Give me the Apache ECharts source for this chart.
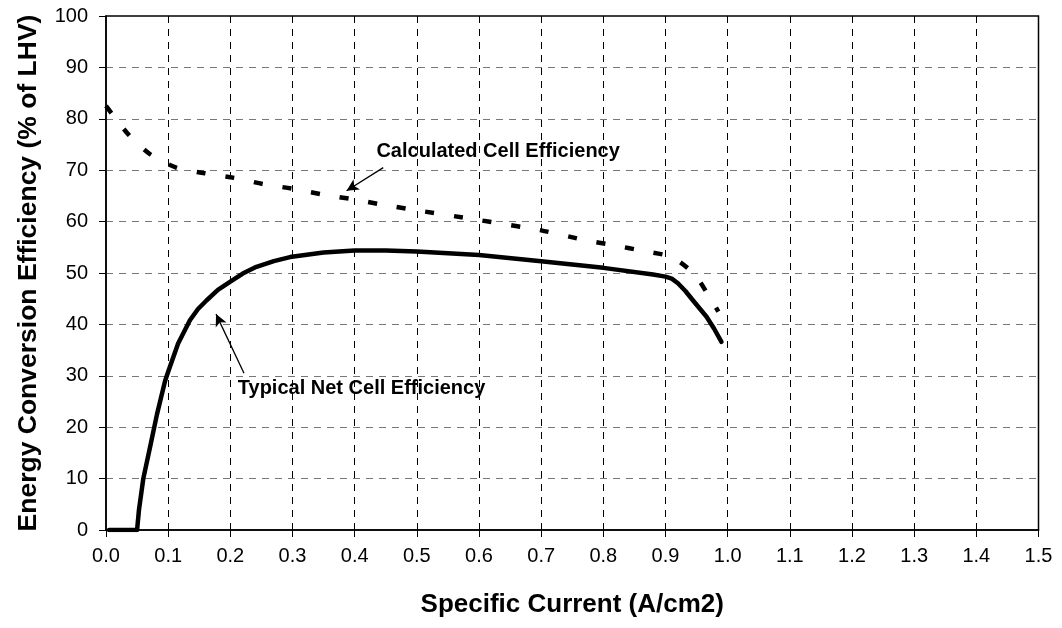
<!DOCTYPE html>
<html>
<head>
<meta charset="utf-8">
<script src="https://cdn.jsdelivr.net/npm/echarts@6/dist/echarts.min.js"></script>
<style>html,body{margin:0;padding:0;background:#fff}#c{width:1062px;height:628px}</style>
</head>
<body>
<div id="c"></div>
<script>
const xTicks = [0,0.1,0.2,0.3,0.4,0.5,0.6,0.7,0.8,0.9,1.0,1.1,1.2,1.3,1.4,1.5];
const yTicks = [0,10,20,30,40,50,60,70,80,90,100];
const typicalNet = [[0.005,0],[0.05,0],[0.053,3.9],[0.06,10],[0.071,16.2],[0.082,22.5],[0.095,29],[0.1,30.8],[0.116,36.3],[0.135,40.8],[0.148,43],[0.162,44.7],[0.18,46.7],[0.2,48.3],[0.22,49.9],[0.242,51.2],[0.27,52.3],[0.296,53.1],[0.35,54],[0.4,54.4],[0.45,54.4],[0.5,54.2],[0.6,53.5],[0.7,52.3],[0.8,51],[0.88,49.7],[0.9,49.3],[0.91,48.9],[0.92,48],[0.932,46.5],[0.944,44.7],[0.955,43.1],[0.966,41.5],[0.978,39.2],[0.99,36.6]];
const calculated = [[0,82.5],[0.035,77.1],[0.071,73.1],[0.113,70.5],[0.159,69.4],[0.206,68.5],[0.253,67.3],[0.3,66.4],[0.347,65.3],[0.394,64.4],[0.44,63.4],[0.5,62.2],[0.6,60.3],[0.7,58.3],[0.77,56.4],[0.817,55.4],[0.863,54.3],[0.91,53.1],[0.946,49.8],[0.974,44.7],[0.985,42.5]];
const labels = [
  {text:'Calculated Cell Efficiency', at:[0.435,73.6], from:[0.446,70.5], to:[0.387,66.0]},
  {text:'Typical Net Cell Efficiency', at:[0.212,27.6], from:[0.222,30.5], to:[0.177,42.0]}
];
const F = 'Liberation Sans, Arial, sans-serif';
const chart = echarts.init(document.getElementById('c'), null, {renderer:'canvas'});
chart.setOption({
  animation:false,
  backgroundColor:'#fff',
  grid:{left:106, right:23.5, top:16, bottom:98, show:true, borderColor:'#000', borderWidth:1.5, backgroundColor:'transparent'},
  xAxis:{type:'value', min:0, max:1.5, interval:0.1,
    name:'Specific Current (A/cm2)', nameLocation:'middle', nameGap:62,
    nameTextStyle:{fontFamily:F, fontWeight:'bold', fontSize:26, color:'#000'},
    axisLine:{show:true, lineStyle:{color:'#000', width:1.5}},
    axisTick:{show:true, inside:false, length:7, lineStyle:{color:'#000', width:1}},
    axisLabel:{fontFamily:F, fontSize:20, color:'#000', margin:16, formatter:v=>v.toFixed(1)},
    splitLine:{show:true, showMinLine:false, showMaxLine:false, lineStyle:{color:'#000', type:[7,6], width:1}}
  },
  yAxis:{type:'value', min:0, max:100, interval:10,
    name:'Energy Conversion Efficiency (% of LHV)', nameLocation:'middle', nameGap:64, nameRotate:90,
    nameTextStyle:{fontFamily:F, fontWeight:'bold', fontSize:26.5, color:'#000'},
    axisLine:{show:true, lineStyle:{color:'#000', width:1.5}},
    axisTick:{show:true, inside:false, length:7, lineStyle:{color:'#000', width:1}},
    axisLabel:{fontFamily:F, fontSize:20, color:'#000', margin:18},
    splitLine:{show:true, showMinLine:false, showMaxLine:false, lineStyle:{color:'#777', type:[7,6], width:1}}
  },
  series:[
    {name:'Typical Net Cell Efficiency', type:'line', data:typicalNet, showSymbol:false, smooth:false,
      lineStyle:{color:'#000', width:4.5, cap:'round', join:'round'}, z:3,
      markLine:{silent:true, symbol:['none','arrow'], symbolSize:[9,12], label:{show:false},
        lineStyle:{color:'#000', width:1.3, type:'solid'},
        data:labels.map(l=>[{coord:l.from},{coord:l.to}])}
    },
    {name:'Calculated Cell Efficiency', type:'line', data:calculated, showSymbol:false, smooth:0.25,
      lineStyle:{color:'#000', width:4.5, type:[9,20], cap:'butt'}, z:3}
  ]
});
const g = labels.map(l=>{
  const p = chart.convertToPixel({gridIndex:0}, l.at);
  return {type:'text', x:p[0], y:p[1], style:{text:l.text, fill:'#000', font:'bold 20px '+F, textVerticalAlign:'middle', textAlign:'left'}};
});
chart.setOption({graphic:g});
</script>
</body>
</html>
